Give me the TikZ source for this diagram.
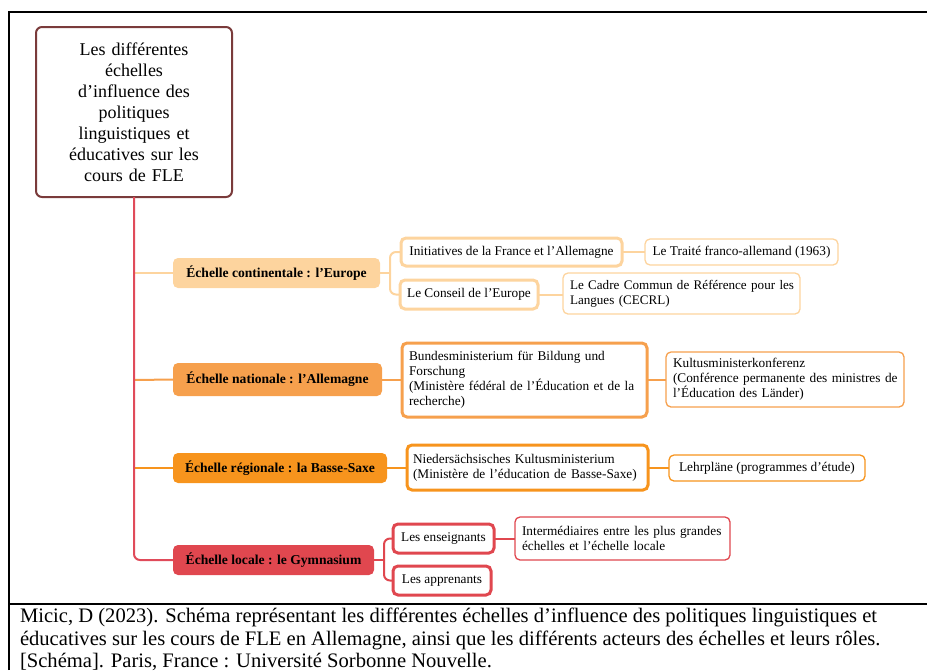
\documentclass[tikz,border=0pt]{standalone}
\usepackage{fontspec}
\setmainfont{Liberation Serif}
\definecolor{rootc}{HTML}{7A3B3B}
\definecolor{trunkc}{HTML}{E04B5A}
\definecolor{euc}{HTML}{FDD49E}
\definecolor{natc}{HTML}{F6A04D}
\definecolor{regc}{HTML}{F7941D}
\definecolor{locc}{HTML}{E0474F}
\begin{document}
\begin{tikzpicture}[x=1pt,y=-1pt,
  every node/.style={inner sep=0pt,outer sep=0pt},
  rootbox/.style={draw=rootc,line width=2pt,rounded corners=6pt,fill=white,align=center,
    font=\fontsize{18}{21}\selectfont,minimum width=196pt,minimum height=170pt},
  scalebox/.style={rounded corners=5pt,font=\fontsize{13.6}{15}\selectfont\bfseries,minimum height=30pt},
  thickbox/.style={draw=#1,line width=3pt,rounded corners=5pt,fill=white,font=\fontsize{13.3}{15}\selectfont},
  thinbox/.style={draw=#1,line width=1.3pt,rounded corners=5pt,fill=white,font=\fontsize{13.3}{15}\selectfont},
  branch/.style={draw=#1,line width=2pt,rounded corners=6pt},
  caption/.style={anchor=base west,font=\fontsize{20.6}{23}\selectfont}
]
\useasboundingbox (0,0) rectangle (927,670);
\clip (0,0) rectangle (927,670);
% frame
\draw[line width=1.2pt] (9,670) -- (9,12) -- (930,12);
\draw[line width=1.2pt] (9,604) -- (930,604);

% nodes
\node[rootbox,text width=170pt] (root) at (134,112) {Les différentes\\échelles\\d’influence des\\politiques\\linguistiques et\\éducatives sur les\\cours de FLE};

\node[scalebox,fill=euc,minimum width=207pt] (eu) at (276.5,273) {Échelle continentale : l’Europe};
\node[scalebox,fill=natc,minimum width=209pt,minimum height=33pt] (nat) at (277.5,379.5) {Échelle nationale : l’Allemagne};
\node[scalebox,fill=regc,minimum width=214pt] (reg) at (280,468) {Échelle régionale : la Basse-Saxe};
\node[scalebox,fill=locc,minimum width=201pt] (loc) at (273.5,560) {Échelle locale : le Gymnasium};

\node[thickbox=euc,minimum width=221pt,minimum height=28pt] (init) at (511.5,252) {Initiatives de la France et l’Allemagne};
\node[thickbox=euc,minimum width=138pt,minimum height=29pt] (cons) at (469,294.5) {Le Conseil de l’Europe};
\node[thinbox=euc,minimum width=193pt,minimum height=26pt] (traite) at (741.5,252) {Le Traité franco-allemand (1963)};
\node[thinbox=euc,minimum height=41pt,text width=229pt,inner xsep=4pt,align=left,font=\fontsize{13.1}{15}\selectfont] (cadre) at (681.5,293.5) {\makebox[229pt][l]{\hspace*{3pt}Le Cadre Commun de Référence pour les}\\\hspace*{3pt}Langues (CECRL)};

\node[thickbox=natc,minimum height=74pt,text width=231pt,inner xsep=7pt,align=left] (bund) at (524.5,380) {Bundesministerium für Bildung und\\Forschung\\(Ministère fédéral de l’Éducation et de la\\recherche)};
\node[thinbox=natc,minimum height=55pt,text width=228pt,inner xsep=5pt,align=left] (kult) at (785,379.5) {\hspace*{2pt}Kultusministerkonferenz\\\hspace*{2pt}(Conférence permanente des ministres de\\\hspace*{2pt}l’Éducation des Länder)};

\node[thickbox=regc,minimum height=45pt,text width=229pt,inner xsep=6pt,align=left] (nied) at (527.5,467.5) {Niedersächsisches Kultusministerium\\(Ministère de l’éducation de Basse-Saxe)};
\node[thinbox=regc,minimum width=196pt,minimum height=26pt] (lehr) at (767,468) {Lehrpläne (programmes d’étude)};

\node[thickbox=locc,minimum width=101pt,minimum height=29pt] (ens) at (443.5,538.5) {Les enseignants};
\node[thickbox=locc,minimum width=98pt,minimum height=29pt] (app) at (442,580.5) {Les apprenants};
\node[thinbox=locc,minimum height=43pt,text width=207pt,inner xsep=4pt,align=left] (inter) at (622.5,538.5) {\hspace*{3pt}Intermédiaires entre les plus grandes\\\hspace*{3pt}échelles et l’échelle locale};

% fork coordinates
\coordinate (t1) at (134,273);
\coordinate (t2) at (134,380);
\coordinate (t3) at (134,468);
\coordinate (euf) at (390,273);
\coordinate (locf) at (384,560);

% branches from the trunk
\draw[branch=euc] (t1) -- (eu.west);
\draw[branch=natc] (t2) -- (nat.west);
\draw[branch=regc] (t3) -- (reg.west);
\draw[branch=trunkc] (root.south) |- (loc.west);

% Europe
\draw[branch=euc] (eu.east) -- (euf);
\draw[branch=euc] (euf) |- (init.west);
\draw[branch=euc] (euf) |- (cons.west);
\draw[branch=euc] (init.east) -- (traite.west);
\draw[branch=euc] (cons.east) -- (cons.east -| cadre.west);
% National
\draw[branch=natc] (nat.east) -- (nat.east -| bund.west);
\draw[branch=natc] (bund.east |- kult.west) -- (kult.west);
% Regional
\draw[branch=regc] (reg.east) -- (reg.east -| nied.west);
\draw[branch=regc] (nied.east |- lehr.west) -- (lehr.west);
% Local
\draw[branch=locc] (loc.east) -- (locf);
\draw[branch=locc] (locf) |- (ens.west);
\draw[branch=locc] (locf) |- (app.west);
\draw[branch=locc] (ens.east) -- (ens.east -| inter.west);

% caption
\node[caption] (cap1) at (20,622) {Micic, D (2023). Schéma représentant les différentes échelles d’influence des politiques linguistiques et};
\node[caption] (cap2) at (20,645.5) {éducatives sur les cours de FLE en Allemagne, ainsi que les différents acteurs des échelles et leurs rôles.};
\node[caption] (cap3) at (20,667) {[Schéma]. Paris, France : Université Sorbonne Nouvelle.};
\end{tikzpicture}
\end{document}
